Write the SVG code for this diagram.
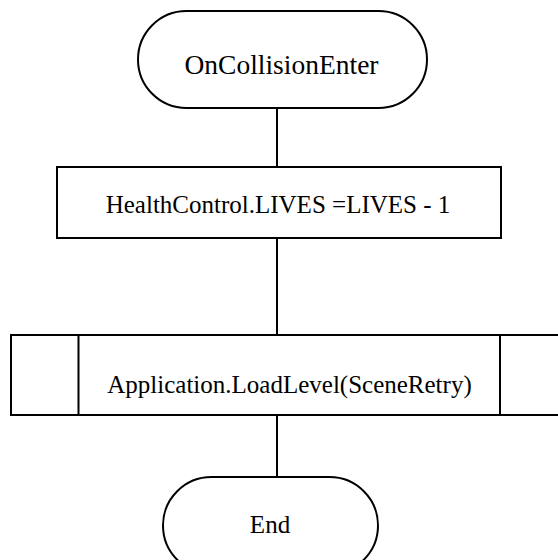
<svg xmlns="http://www.w3.org/2000/svg" width="558" height="560" viewBox="0 0 558 560">
  <style>
    .shape { fill: #ffffff; stroke: #000000; stroke-width: 2; }
    .edge { fill: none; stroke: #000000; stroke-width: 2; }
    text { font-family: 'Liberation Serif', 'Times New Roman', 'DejaVu Serif', serif; font-size: 25px; fill: #000000; text-anchor: middle; }
    text.title { font-size: 27.5px; }
  </style>
  <rect width="558" height="560" fill="#ffffff"/>

  <!-- flow connectors -->
  <g id="connectors">
    <line class="edge" x1="277" y1="108" x2="277" y2="167"/>
    <line class="edge" x1="277" y1="238" x2="277" y2="335"/>
    <line class="edge" x1="277" y1="415" x2="277" y2="477"/>
  </g>

  <g id="start">
    <rect class="shape" x="138" y="11" width="289" height="97" rx="48.5" ry="48.5"/>
    <text class="title" x="281.5" y="74">OnCollisionEnter</text>
  </g>

  <g id="decrement-lives">
    <rect class="shape" x="57" y="167" width="444" height="71"/>
    <text x="278" y="213">HealthControl.LIVES =LIVES - 1</text>
  </g>

  <g id="load-level">
    <rect class="shape" x="11" y="335" width="557" height="80"/>
    <line class="shape" x1="78.5" y1="335" x2="78.5" y2="415"/>
    <line class="shape" x1="500" y1="335" x2="500" y2="415"/>
    <text x="289.5" y="393">Application.LoadLevel(SceneRetry)</text>
  </g>

  <g id="end">
    <rect class="shape" x="163" y="477" width="215" height="97" rx="48.5" ry="48.5"/>
    <text x="270" y="533">End</text>
  </g>
</svg>
